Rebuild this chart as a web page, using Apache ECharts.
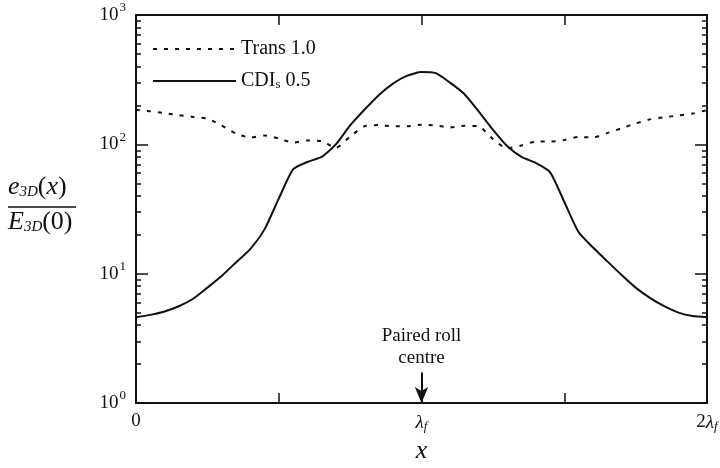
<!DOCTYPE html>
<html>
<head>
<meta charset="utf-8">
<script src="https://cdn.jsdelivr.net/npm/echarts@6/dist/echarts.min.js"></script>
<style>
  html, body { margin: 0; padding: 0; background: #fff; }
  #chart { width: 720px; height: 468px; }
</style>
</head>
<body>
<div id="chart"></div>
<script>
// x positions, in units of lambda_f
const xs = [0, 0.05, 0.1, 0.15, 0.2, 0.25, 0.3, 0.35, 0.4, 0.45, 0.5, 0.55, 0.6, 0.65, 0.7, 0.75, 0.8, 0.85, 0.9, 0.95,
  1.0, 1.05, 1.1, 1.15, 1.2, 1.25, 1.3, 1.35, 1.4, 1.45, 1.5, 1.55, 1.6, 1.65, 1.7, 1.75, 1.8, 1.85, 1.9, 1.95, 2.0]

// CDI_s 0.5 (solid)
const cdi = [4.6, 4.8, 5.1, 5.6, 6.4, 7.8, 9.6, 12.2, 15.5, 22, 38, 64, 73, 80, 100, 140, 185, 240, 295, 340,
  362, 355, 300, 245, 180, 130, 97, 80, 72, 61, 36, 21, 16, 12.5, 9.8, 7.8, 6.5, 5.6, 5.0, 4.7, 4.6]

// Trans 1.0 (dotted)
const trans = [185, 180, 174, 168, 163, 158, 140, 121, 113, 117, 111, 103, 107, 106, 94, 115, 138, 141, 138, 138,
  142, 140, 135, 139, 138, 110, 93, 98, 105, 105, 108, 114, 113, 122, 133, 145, 156, 162, 167, 173, 184]

const xTicks = [0, 0.5, 1, 1.5, 2]
const yMajor = [1, 10, 100, 1000]
const yMinor = [2, 3, 4, 5, 6, 7, 8, 9, 20, 30, 40, 50, 60, 70, 80, 90, 200, 300, 400, 500, 600, 700, 800, 900]

const serif = '"Liberation Serif", "DejaVu Serif", serif'
const ink = '#111'

const chart = echarts.init(document.getElementById('chart'))

// 对数 y 轴（左右各两条：主刻度 + 次刻度）
const yAxisBase = (position, values, len, labels) => ({
  type: 'log',
  logBase: 10,
  min: 1,
  max: 1000,
  position: position,
  axisLine: { show: true, lineStyle: { color: ink, width: 2 } },
  axisTick: { show: true, inside: true, length: len, lineStyle: { color: ink, width: 1.5 }, customValues: values },
  axisLabel: labels
    ? {
        show: true,
        margin: 10,
        customValues: yMajor,
        formatter: (v) => '{b|10}{s|' + Math.round(Math.log10(v)) + '}',
        rich: {
          b: { fontFamily: serif, fontSize: 19, color: ink },
          s: { fontFamily: serif, fontSize: 13, color: ink, verticalAlign: 'top', padding: [0, 0, 14, 1] },
        },
      }
    : { show: false },
  splitLine: { show: false },
})

const xAxisBase = (position, labels) => ({
  type: 'value',
  min: 0,
  max: 2,
  interval: 0.5,
  position: position,
  axisLine: { show: true, onZero: false, lineStyle: { color: ink, width: 2 } },
  axisTick: { show: true, inside: true, length: 10, lineStyle: { color: ink, width: 1.5 } },
  axisLabel: labels
    ? {
        show: true,
        margin: 9,
        formatter: (v) => {
          if (v === 0) return '{n|0}'
          if (v === 1) return '{l|λ}{f|f}'
          if (v === 2) return '{n|2}{l|λ}{f|f}'
          return ''
        },
        rich: {
          n: { fontFamily: serif, fontSize: 19, color: ink },
          l: { fontFamily: serif, fontSize: 19, fontStyle: 'italic', color: ink },
          f: { fontFamily: serif, fontSize: 13, fontStyle: 'italic', color: ink, verticalAlign: 'bottom', padding: [8, 0, 0, 0] },
        },
      }
    : { show: false },
  splitLine: { show: false },
})

chart.setOption({
  animation: false,
  backgroundColor: '#fff',
  grid: { left: 136, right: 13, top: 15, bottom: 65, outerBoundsMode: 'none', containLabel: false },
  legend: {
    orient: 'vertical',
    left: 147,
    top: 34,
    itemWidth: 83,
    itemHeight: 14,
    itemGap: 12,
    itemStyle: { opacity: 0 },
    data: ['Trans 1.0', 'CDIs 0.5'],
    formatter: (name) => (name === 'CDIs 0.5' ? '{a|CDI}{s|s}{a| 0.5}' : '{a|' + name + '}'),
    textStyle: {
      rich: {
        a: { fontFamily: serif, fontSize: 20, color: ink },
        s: { fontFamily: serif, fontSize: 13, color: ink, verticalAlign: 'bottom', padding: [8, 0, 0, 0] },
      },
    },
  },
  xAxis: [
    Object.assign(xAxisBase('bottom', true), {
      name: 'x',
      nameLocation: 'middle',
      nameGap: 34,
      nameTextStyle: { fontFamily: serif, fontSize: 26, fontStyle: 'italic', color: ink },
    }),
    xAxisBase('top', false),
  ],
  yAxis: [
    yAxisBase('left', yMajor, 12, true),
    yAxisBase('left', yMinor, 5, false),
    yAxisBase('right', yMajor, 12, false),
    yAxisBase('right', yMinor, 5, false),
  ],
  graphic: [
    {
      type: 'text',
      left: 8,
      top: 174,
      style: {
        text: '{i|e}{d|3D}{n|(}{i|x}{n|)}',
        rich: {
          i: { fontFamily: serif, fontSize: 26, fontStyle: 'italic', fill: ink },
          n: { fontFamily: serif, fontSize: 26, fill: ink },
          d: { fontFamily: serif, fontSize: 15, fontStyle: 'italic', fill: ink, verticalAlign: 'bottom', padding: [10, 0, 0, 0] },
        },
      },
    },
    {
      type: 'line',
      shape: { x1: 8, y1: 207, x2: 76, y2: 207 },
      style: { stroke: ink, lineWidth: 1.5 },
    },
    {
      type: 'text',
      left: 8,
      top: 209,
      style: {
        text: '{i|E}{d|3D}{n|(0)}',
        rich: {
          i: { fontFamily: serif, fontSize: 26, fontStyle: 'italic', fill: ink },
          n: { fontFamily: serif, fontSize: 26, fill: ink },
          d: { fontFamily: serif, fontSize: 15, fontStyle: 'italic', fill: ink, verticalAlign: 'bottom', padding: [10, 0, 0, 0] },
        },
      },
    },
  ],
  series: [
    {
      name: 'Trans 1.0',
      type: 'line',
      symbol: 'none',
      smooth: 0.2,
      color: ink,
      data: xs.map((x, i) => [x, trans[i]]),
      lineStyle: { color: ink, width: 2, type: [4, 7] },
      markLine: {
        silent: true,
        symbol: ['none', 'arrow'],
        symbolSize: [10, 16],
        lineStyle: { color: ink, width: 2, type: 'solid' },
        label: {
          show: true,
          position: 'start',
          distance: 4,
          formatter: 'Paired roll\ncentre',
          fontFamily: serif,
          fontSize: 19,
          lineHeight: 22,
          color: ink,
        },
        data: [[{ coord: [1, 1.72] }, { coord: [1, 1] }]],
      },
    },
    {
      name: 'CDIs 0.5',
      type: 'line',
      symbol: 'none',
      smooth: 0.2,
      color: ink,
      data: xs.map((x, i) => [x, cdi[i]]),
      lineStyle: { color: ink, width: 2 },
    },
  ],
})
</script>
</body>
</html>
